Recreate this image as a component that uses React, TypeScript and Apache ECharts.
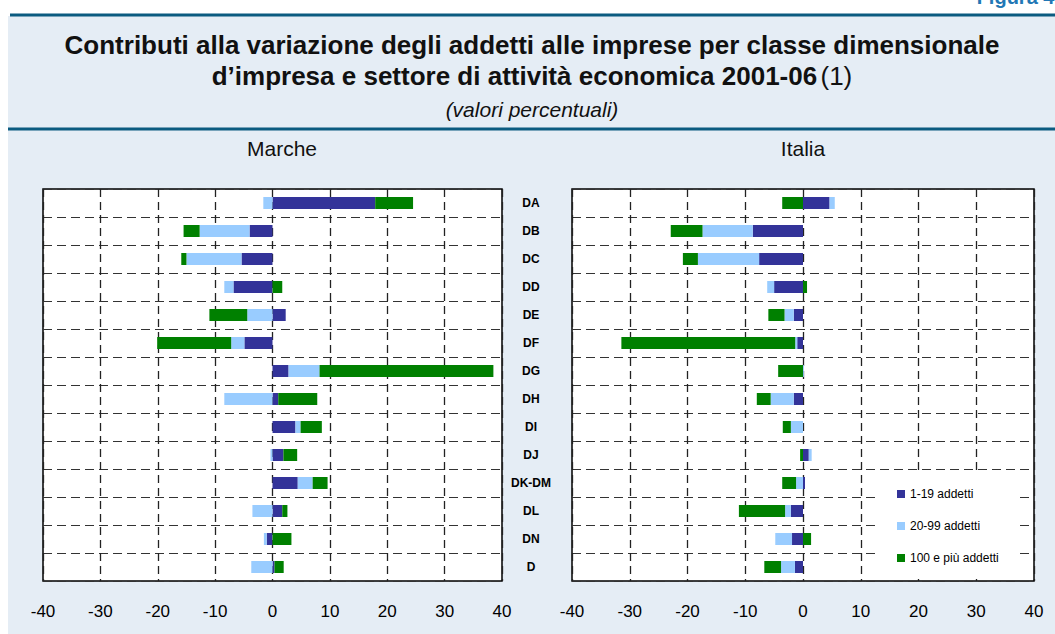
import React, { useEffect, useRef } from "react";
import * as echarts from "echarts";

const categories = ["DA", "DB", "DC", "DD", "DE", "DF", "DG", "DH", "DI", "DJ", "DK-DM", "DL", "DN", "D"];

const seriesNames = ["1-19 addetti", "20-99 addetti", "100 e più addetti"];

// Marche
const marcheSmall = [17.9, -4.0, -5.4, -6.8, 2.3, -4.9, 2.8, 1.0, 4.0, 1.9, 4.4, 1.7, -1.0, 0.35];
const marcheMedium = [-1.6, -8.7, -9.6, -1.6, -4.4, -2.3, 5.4, -8.4, 0.9, -0.35, 2.6, -3.5, -0.5, -3.7];
const marcheLarge = [6.6, -2.8, -0.9, 1.7, -6.6, -12.9, 30.3, 6.8, 3.7, 2.4, 2.6, 0.9, 3.3, 1.6];

// Italia
const italiaSmall = [4.6, -8.7, -7.6, -5.0, -1.6, -1.0, 0, -1.6, 0, 1.0, 0.35, -2.1, -1.9, -1.4];
const italiaMedium = [0.9, -8.7, -10.6, -1.2, -1.6, -0.35, 0.15, -4.0, -2.1, 0.5, -1.2, -1.0, -2.9, -2.4];
const italiaLarge = [-3.6, -5.5, -2.6, 0.7, -2.8, -30.1, -4.3, -2.4, -1.4, -0.5, -2.4, -8.0, 1.4, -2.9];

const xMin = -40;
const xMax = 40;
const xInterval = 10;

const FONT = "'Liberation Sans', Arial, sans-serif";
const COLORS = ["#333399", "#99ccff", "#008000"];
const BG = "#e5edf5";
const LINE = "#0b5b80";

export default function App() {
  const ref = useRef<HTMLDivElement>(null);

  useEffect(() => {
    if (!ref.current) return;
    const chart = echarts.init(ref.current, null, { renderer: "svg" });

    const grids = [
      { left: 43, top: 189, width: 459, height: 392 },
      { left: 572, top: 189, width: 462, height: 392 },
    ];

    const xAxes = grids.map((_, i) => ({
      type: "value",
      gridIndex: i,
      z: 1,
      min: xMin,
      max: xMax,
      interval: xInterval,
      axisLine: { show: false },
      axisTick: { show: false },
      axisLabel: { fontSize: 17, color: "#000", fontFamily: FONT, margin: 22 },
      splitLine: { show: true, lineStyle: { type: [8, 5], color: "#222", width: 1.3 } },
    }));

    const yAxes = grids.map((_, i) => ({
      type: "category",
      gridIndex: i,
      z: 1,
      data: categories,
      inverse: true,
      position: "right",
      axisLine: { show: false },
      axisTick: { show: false },
      axisLabel: {
        show: i === 0,
        align: "center",
        margin: 29,
        fontWeight: "bold",
        fontSize: 12,
        color: "#000",
        fontFamily: FONT,
      },
      splitLine: { show: true, lineStyle: { type: [9, 5], color: "#333", width: 1.2 } },
    }));

    const panels = [
      [marcheSmall, marcheMedium, marcheLarge],
      [italiaSmall, italiaMedium, italiaLarge],
    ];

    const series: any[] = [];
    panels.forEach((panel, gi) => {
      panel.forEach((data, si) => {
        series.push({
          name: seriesNames[si],
          type: "bar",
          xAxisIndex: gi,
          yAxisIndex: gi,
          stack: "s" + gi,
          data,
          barWidth: 12,
          z: 4,
          itemStyle: { color: COLORS[si] },
        });
      });
    });

    chart.setOption({
      animation: false,
      backgroundColor: "#fff",
      textStyle: { fontFamily: FONT },
      grid: grids.map((g) => ({
        ...g,
        show: true,
        backgroundColor: "#fff",
        borderColor: "#000",
        borderWidth: 1.5,
        z: 0,
      })),
      xAxis: xAxes,
      yAxis: yAxes,
      legend: {
        data: seriesNames,
        orient: "vertical",
        left: 897,
        top: 488,
        padding: 0,
        itemWidth: 8,
        itemHeight: 8,
        itemGap: 20,
        icon: "rect",
        z: 10,
        textStyle: { fontSize: 12, color: "#000", fontFamily: FONT },
      },
      graphic: [
        { type: "rect", z: -10, shape: { x: 8, y: 16, width: 1047, height: 618 }, style: { fill: BG } },
        { type: "rect", z: 5, shape: { x: 10, y: 13.5, width: 1045, height: 3 }, style: { fill: LINE } },
        { type: "rect", z: 5, shape: { x: 8, y: 127.5, width: 1047, height: 3 }, style: { fill: LINE } },
        {
          type: "text",
          z: 5,
          x: 1060,
          y: 7,
          style: {
            text: "Figura 4.",
            align: "right",
            verticalAlign: "bottom",
            font: `bold 20px ${FONT}`,
            fill: "#2277b5",
          },
        },
        {
          type: "text",
          z: 5,
          x: 532,
          y: 45,
          style: {
            text: "Contributi alla variazione degli addetti alle imprese per classe dimensionale",
            align: "center",
            verticalAlign: "middle",
            font: `bold 26px ${FONT}`,
            fill: "#111",
          },
        },
        {
          type: "text",
          z: 5,
          x: 532,
          y: 76,
          style: {
            text: "{b|d’impresa e settore di attività economica 2001-06} {n|(1)}",
            align: "center",
            verticalAlign: "middle",
            fill: "#111",
            rich: {
              b: { font: `bold 26px ${FONT}`, fill: "#111" },
              n: { font: `26px ${FONT}`, fill: "#111" },
            },
          },
        },
        {
          type: "text",
          z: 5,
          x: 532,
          y: 109,
          style: {
            text: "(valori percentuali)",
            align: "center",
            verticalAlign: "middle",
            font: `italic 21px ${FONT}`,
            fill: "#111",
          },
        },
        {
          type: "text",
          z: 5,
          x: 282,
          y: 148,
          style: { text: "Marche", align: "center", verticalAlign: "middle", font: `21px ${FONT}`, fill: "#111" },
        },
        {
          type: "text",
          z: 5,
          x: 803,
          y: 148,
          style: { text: "Italia", align: "center", verticalAlign: "middle", font: `21px ${FONT}`, fill: "#111" },
        },
        { type: "rect", z: 3, shape: { x: 880, y: 474, width: 140, height: 102 }, style: { fill: "#fff" } },
      ],
      series,
    });

    return () => chart.dispose();
  }, []);

  return <div ref={ref} style={{ position: "fixed", left: 0, top: 0, width: 1055, height: 634 }} />;
}
